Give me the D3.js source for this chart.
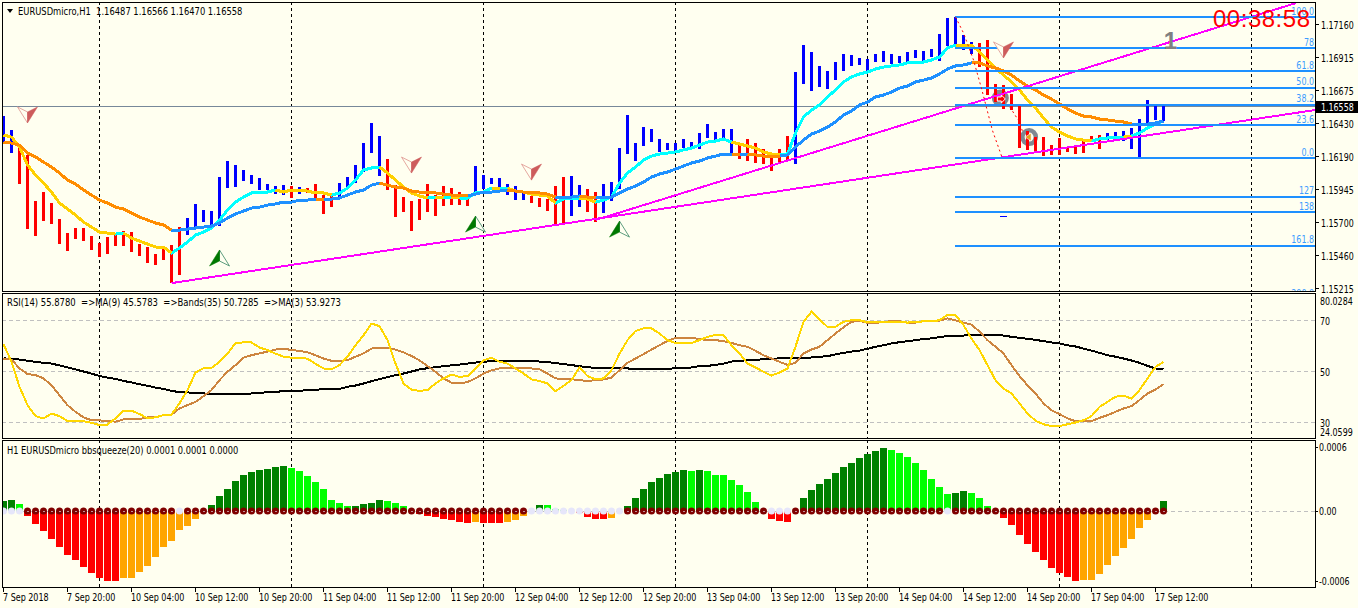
<!DOCTYPE html>
<html><head><meta charset="utf-8">
<script src="https://cdn.jsdelivr.net/npm/d3@7/dist/d3.min.js"></script>
<style>
html,body{margin:0;padding:0;background:#fffff0;overflow:hidden}
svg{display:block}
text{font-family:"DejaVu Sans Condensed","DejaVu Sans",sans-serif;font-size:10px;fill:#000}
</style></head><body>
<svg id="c" width="1358" height="608"></svg>
<script>
// Prices are in points (1e-5), so 116558 reads 1.16558
const barHigh=[116482,116379,116276,116195,115856,115922,115841,115723,115620,115657,115657,115598,115546,115590,115620,115635,115627,115539,115517,115465,115509,115531,115664,115730,115834,115789,115782,116032,116150,116121,116084,116047,116025,115981,115966,115973,115966,115959,115951,115981,115900,115900,115988,116032,116121,116283,116431,116335,116165,115973,115885,115856,115870,115981,115900,115966,115951,115922,115907,116114,116047,116025,116025,115981,115966,115929,115893,115878,115870,115966,116032,116040,115973,115944,115922,115981,115996,116246,116490,116283,116401,116386,116313,116283,116283,116313,116290,116357,116423,116364,116386,116386,116283,116313,116283,116239,116195,116239,116335,116806,117005,116954,116851,116814,116880,116939,116932,116910,116902,116939,116961,116939,116924,116954,116969,116961,116976,117086,117204,117212,117079,117027,117020,117042,116718,116711,116644,116556,116372,116327,116327,116268,116320,116246,116268,116298,116335,116342,116357,116364,116372,116394,116460,116600,116556,116556];
const barLow=[116290,116209,115981,115649,115598,115708,115686,115539,115487,115576,115561,115495,115443,115465,115524,115524,115480,115450,115399,115384,115421,115251,115310,115605,115664,115701,115671,115671,115951,115959,116003,115981,115937,115937,115907,115900,115878,115907,115915,115863,115760,115811,115878,115959,115988,116069,116209,116040,115937,115738,115775,115635,115716,115775,115745,115819,115826,115826,115819,115922,115944,115981,115959,115900,115863,115863,115841,115811,115782,115686,115686,115745,115811,115775,115701,115767,115856,115944,116202,116150,116261,116290,116217,116232,116224,116246,116246,116239,116320,116305,116320,116202,116165,116150,116136,116128,116077,116136,116158,116128,116718,116666,116696,116681,116747,116814,116851,116858,116814,116880,116880,116865,116873,116880,116910,116880,116917,116887,116998,116998,116969,116939,116843,116637,116585,116534,116526,116246,116232,116224,116187,116195,116195,116217,116202,116209,116290,116239,116305,116320,116298,116239,116180,116423,116453,116445];
const upRanges=[[0,1],[23,35],[37,37],[42,47],[59,65],[71,72],[75,91],[99,121],[138,145]];
const fastMA=[116342,116327,116254,116121,116047,115988,115922,115841,115797,115752,115701,115664,115627,115620,115612,115620,115583,115561,115539,115517,115517,115472,115509,115553,115605,115627,115657,115716,115789,115848,115885,115915,115922,115922,115937,115922,115937,115937,115929,115915,115915,115900,115915,
115951,116010,116084,116099,116106,116062,116010,115959,115915,115893,115878,115885,115878,115885,115878,115878,115915,115922,115951,115951,115951,115929,115922,115907,115900,115893,115841,115870,115878,115878,115870,115848,115863,115885,115988,116062,116106,116158,116187,116202,116209,116217,
116232,116246,116268,116290,116298,116313,116290,116276,116261,116246,116217,116202,116202,116202,116357,116475,116526,116563,116622,116674,116733,116770,116792,116806,116828,116843,116851,116858,116873,116880,116880,116895,116917,116983,117005,117005,117005,
116954,116895,116836,116784,116733,116674,116600,116541,116467,116401,116364,116335,116313,116305,116298,116313,116320,116327,116327,116335,116357,116394,116423,116445];
const slowMA=[116290,116283,116268,116209,116180,116143,116106,116062,116010,115981,115937,115900,115863,115841,115811,115797,115767,115738,115716,115694,115679,115642,115642,115649,115657,115664,115671,115694,115730,115760,115782,115804,115811,115826,115834,115848,115848,115863,115863,115870,115870,115870,115878,
115900,115922,115937,115973,115988,115973,115959,115951,115929,115922,115915,115915,115907,115900,115893,115893,115907,115922,115922,115929,115937,115929,115922,115915,115915,115907,115885,115885,115885,115893,115885,115878,115885,115885,115915,115944,115966,115996,116032,116055,116069,116091,
116114,116136,116150,116173,116187,116202,116202,116202,116202,116195,116187,116187,116187,116195,116254,116305,116349,116372,116401,116438,116490,116519,116563,116585,116622,116637,116659,116688,116703,116733,116747,116762,116792,116828,116851,116858,116873,
116873,116851,116836,116814,116784,116740,116703,116674,116637,116607,116571,116534,116504,116482,116475,116460,116453,116445,116438,116423,116423,116423,116431,116445];
const fastDown=[[0,14],[15,21],[34,41],[47,53],[54,55],[56,57],[61,62],[63,69],[72,74],[91,97],[119,136],[140,141]];
const slowDown=[[0,21],[39,40],[47,58],[63,69],[72,74],[91,92],[93,97],[121,141]];
const trendA=[[21,115251],[163.9,116526]];
const trendB=[[74,115716],[161.6,117315]];
const fibHigh=117212, fibLow=116173;
const fibFractions=[1,.78,.618,.5,.382,.236,0,-.27,-.38,-.618,-1];
const fibLabels=["100.0","78","61.8","50.0","38.2","23.6","0.0","127","138","161.8","200.0"];
const zigzagA=[[119,117212],[120,117094],[121.25,116895],[122.3,116674],[123.6,116379],[124.8,116180]];
const zigzagB=[[125.8,116548],[127,116438],[127.4,116364]];
const sellSignals=[[3,116431],[51,116062],[66,116010],[125,116910]];
const buySignals=[[27,115495],[59,115745],[77,115708]];
const priceTicks=[117160,116915,116675,116430,116190,115945,115700,115460,115215];
const lastPrice=116558;
const gridBars=[12,36,60,84,108,132,156];
const rsiGold=[60.7,53.8,44,36.8,32.5,31.6,33.5,32.5,30.6,30.5,30.5,29.9,29,29.2,31.6,34.6,34.7,33.3,31.7,32,32.9,33.1,37.5,42.7,49.6,51.3,51.4,53.8,57,61.2,61.4,61.4,59.4,58.4,57,55.8,55.4,55.4,55,53,51.2,50.9,52.5,55.8,60.3,64.2,68.8,67.8,62.3,53.1,45.3,42.9,42.4,42.7,45.3,47.3,48.8,47.9,48.2,51.2,54.4,55.4,53.8,53.1,51.2,49.2,46.9,46.3,45.3,42.3,44.4,46.6,51.6,48.2,46.9,47.3,50.5,57,62.3,65.9,66.9,66.9,64.9,62.3,61.2,
61.2,61.2,62.3,63.6,64.4,64.2,60.3,57.1,53.1,51.6,49.9,48.4,49.6,51.2,59.7,69.5,73.4,70.4,67.5,67.5,69.5,70.1,70.1,69.3,69.5,69.6,69.6,69.3,69.2,69.3,69.7,69.7,70.1,72.2,72.2,68.2,62.9,58.4,52.5,46.6,43.3,41.4,37.5,33.5,30.7,29.3,28.6,28.6,29.3,30,30.9,32.5,36.1,38.1,40.1,40.5,39.4,42.7,47.3,51.8,53.8];
const rsiTan=[55.1,54.7,51.2,49,48.6,47.3,44.6,40.7,36.8,34.2,32,30.9,30.8,30.7,30.3,31.2,31.4,31.4,32,32.1,32.9,33.1,35.5,36.8,38.1,40.3,42.7,46.6,49.9,52.5,55.4,56.4,57.1,57.8,58.6,59,58.4,58.1,57.5,56.4,55.1,54.2,54.2,54.4,55.8,57.1,59,59.3,59.3,58.6,57.5,56.1,54.4,52.1,49.9,47.3,45.6,45.3,45.9,47.3,49.2,50.5,51.2,51.4,51.4,51.3,51.2,50.9,49.2,47.3,47,47,46.6,46.3,46.6,46.9,47.6,50.5,53.4,55.1,56.8,58.6,60.3,62,63.2,
63.3,63.3,62.7,62.3,62.3,61.9,61.2,60.3,59.7,58.1,56.4,55.1,53.8,52.6,53.4,57.1,58.6,59.7,62.3,64.9,67.3,69.5,69.9,69.1,69,69.5,69.7,69.7,69.2,69.2,69.7,69.7,69.9,70.8,70.1,69.1,68.4,65.6,62.3,59.7,57.1,52.5,48.2,44.6,41.4,37.5,34.8,33.3,31.6,30.5,30.4,30.5,31.8,32.9,34.2,35.5,36.4,38.8,41.4,42.9,45];
const rsiBlack=[55.2,54.8,54.7,54.2,53.8,53.4,53.1,52.4,51.6,50.8,50,49.2,48.2,47.6,47.1,46.3,45.7,45,44.4,43.7,43.2,42.4,41.9,41.8,41.5,41.4,41.2,41.1,41.1,41.1,41.1,41.4,41.6,41.9,42,42.3,42.4,42.4,42.7,42.8,43.1,43.2,43.2,44,44.5,45.3,46.2,47,47.8,48.6,49.2,50,50.8,51.3,51.7,52.1,52.4,52.7,53.1,53.5,53.8,54.1,54.2,54.2,54.2,54.2,54.2,53.9,53.7,53.3,52.9,52.5,52.1,51.7,51.4,51.3,51.2,51.2,51.2,51,51,51,51,51,51.3,
51.3,51.6,52.1,52.2,52.6,53.1,53.9,54.2,54.4,54.6,54.8,54.9,55.2,55.2,55.2,55.2,55.5,55.8,56,56.7,57.3,57.8,58.2,58.9,59.7,60.3,61,61.5,61.9,62.3,62.7,63,63.5,63.9,64,64.1,64.4,64.4,64.4,64.4,64.1,63.6,63.2,62.8,62.4,61.9,61.4,61,60.3,59.8,59,58.2,57.3,56.4,55.8,55.1,54.3,53.4,52.2,51.2,50.9];
const rsiLevels=[70,50,30];
// Squeeze histogram, also in points
const squeeze=[8.6,9.4,6,-4.3,-11.1,-17.1,-24,-30.9,-37.7,-42,-48,-53.1,-57.4,-60,-60,-57.4,-57.3,-52.3,-47.1,-39.4,-30.9,-25.7,-16.3,-12.9,-6.9,-1,5.1,12.9,18.9,25.7,30.9,33.4,35.1,36,37.7,38.6,36.9,34.3,30,24.9,18.9,9.4,6.9,
4.3,4.4,6,6.9,9.4,8.6,6.9,4.3,1,-2.6,-4.3,-5.1,-6.9,-7.7,-9.4,-10.3,-9.4,-10.3,-10.3,-10.3,-9.4,-7.7,-4.3,0,5.1,5,1.7,1,0,-2,-5.1,-6.9,-6.9,-6,-1.1,4.3,11.1,18.9,24.9,28.3,31.7,33.4,
35.1,34.3,35.1,34.3,30.9,30.8,26.6,22.3,16.3,7.7,0,-6.9,-8.6,-9.4,0,11.1,18,23.1,27.4,32.6,37.7,41.1,45.4,48.9,51.4,54,52.3,49.7,46.3,41.1,35.1,27.4,20.6,14.6,15.4,17.1,15.4,11.1,4.3,1,-6,-12,-20.6,
-28.3,-35.1,-42,-48.9,-53.1,-56.6,-60,-59.1,-59,-54,-46.3,-38.6,-31.7,-24,-14.6,-7.7,0,8.6];
const squeezeOff=[0,1,2,22,66,67,68,69,70,71,72,73,74,75,76,77,96,97,98,118];
const timeLabels=["7 Sep 2018","7 Sep 20:00","10 Sep 04:00","10 Sep 12:00","10 Sep 20:00","11 Sep 04:00","11 Sep 12:00","11 Sep 20:00","12 Sep 04:00","12 Sep 12:00","12 Sep 20:00","13 Sep 04:00","13 Sep 12:00","13 Sep 20:00","14 Sep 04:00","14 Sep 12:00","14 Sep 20:00","17 Sep 04:00","17 Sep 12:00"];
const titleMain="EURUSDmicro,H1  1.16487 1.16566 1.16470 1.16558";
const titleRsi="RSI(14) 55.8780  =>MA(9) 45.5783  =>Bands(35) 50.7285  =>MA(3) 53.9273";
const titleSq="H1 EURUSDmicro bbsqueeze(20) 0.0001 0.0001 0.0000";
const clockText="00:38:58";

const svg=d3.select("#c");
const X0=2,X1=1315;
const x=d3.scaleLinear().domain([0,145]).range([3.5,1163.5]);
const yP=d3.scaleLinear().domain([115215,117160]).range([288,24]);
const yR=d3.scaleLinear().domain([30,70]).range([422.5,320.5]);
const yS=d3.scaleLinear().domain([-60,60]).range([581,441]);
const inRanges=(i,r)=>r.some(([a,b])=>i>=a&&i<=b);
// squeeze the condensed face to the narrow width of the chart's own font
function fit(sel,ratio){
  sel.style("white-space","pre").attr("xml:space","preserve").each(function(){
    this.setAttribute("textLength",this.getComputedTextLength()*ratio);
    this.setAttribute("lengthAdjust","spacingAndGlyphs");
  });
  return sel;
}

const defs=svg.append("defs");
[["p1",2,291],["p2",293,438],["p3",440,587]].forEach(([id,t,b])=>{
  defs.append("clipPath").attr("id",id).append("rect").attr("x",X0+1).attr("y",t).attr("width",X1-X0-1).attr("height",b-t);
});
const p1=svg.append("g").attr("clip-path","url(#p1)");
const p2=svg.append("g").attr("clip-path","url(#p2)");
const p3=svg.append("g").attr("clip-path","url(#p3)");

// vertical grid
[[p1,2,291],[p2,293,438],[p3,440,587]].forEach(([g,t,b])=>{
  g.selectAll("line.v").data(gridBars).join("line").attr("class","v")
   .attr("x1",d=>Math.floor(x(d))).attr("x2",d=>Math.floor(x(d))).attr("y1",t).attr("y2",b)
   .attr("stroke","#000").attr("stroke-dasharray","3,3").attr("shape-rendering","crispEdges");
});
// current price line
p1.append("line").attr("x1",X0).attr("x2",X1).attr("y1",Math.round(yP(lastPrice))+.5).attr("y2",Math.round(yP(lastPrice))+.5)
  .attr("stroke","#778899").attr("shape-rendering","crispEdges");

// grey pattern markers behind the bars
const markA=[124.6,116615], markB=[128.2,116327];
p1.append("circle").attr("cx",x(markA[0])).attr("cy",yP(markA[1])).attr("r",8.5).attr("fill","#808890");
p1.append("circle").attr("cx",x(markB[0])).attr("cy",yP(markB[1])).attr("r",9).attr("fill","#808890");
p1.append("circle").attr("cx",x(markB[0])).attr("cy",yP(markB[1])).attr("r",4.5).attr("fill","#fffff0");

// bars
p1.selectAll("rect.bar").data(barHigh).join("rect").attr("class","bar")
  .attr("x",(d,i)=>x(i)-1.5).attr("width",3)
  .attr("y",d=>yP(d)).attr("height",(d,i)=>yP(barLow[i])-yP(d))
  .attr("fill",(d,i)=>inRanges(i,upRanges)?"#0000ff":"#ff0000").attr("shape-rendering","crispEdges");

// moving averages
const lineP=d3.line().x(d=>x(d[0])).y(d=>yP(d[1]));
function seg(g,vals,a,b,col,w){
  const pts=d3.range(a,b+1).map(i=>[i,vals[i]]);
  g.append("path").attr("d",lineP(pts)).attr("fill","none").attr("stroke",col).attr("stroke-width",w).attr("stroke-linejoin","round").attr("shape-rendering","crispEdges");
}
seg(p1,fastMA,0,145,"#00ffff",3);
fastDown.forEach(([a,b])=>seg(p1,fastMA,a,b,"#ffd000",3));
seg(p1,slowMA,0,145,"#1e90ff",3);
slowDown.forEach(([a,b])=>seg(p1,slowMA,a,b,"#ff8c00",3));

// trend lines
[trendA,trendB].forEach(t=>p1.append("path").attr("d",lineP(t)).attr("fill","none").attr("stroke","#ff00ff").attr("stroke-width",2).attr("shape-rendering","crispEdges"));

// fibonacci retracement
const fibY=f=>yP(fibLow+f*(fibHigh-fibLow))+.5;
const fibX0=955;
p1.selectAll("line.fib").data(fibFractions).join("line").attr("class","fib")
  .attr("x1",fibX0).attr("x2",X1).attr("y1",d=>fibY(d)).attr("y2",d=>fibY(d))
  .attr("stroke","#1e90ff").attr("stroke-width",2).attr("shape-rendering","crispEdges");
fit(p1.selectAll("text.fib").data(fibFractions).join("text").attr("class","fib")
  .attr("x",1314).attr("y",d=>fibY(d)-2.5).attr("text-anchor","end").style("fill","#3d9cff")
  .text((d,i)=>fibLabels[i]),.88);

// zigzag
[zigzagA,zigzagB].forEach(z=>p1.append("path").attr("d",lineP(z)).attr("fill","none").attr("stroke","#ff0000").attr("stroke-dasharray","2,3").attr("stroke-width",1));

// small tick mark
p1.append("line").attr("x1",x(124.6)).attr("x2",x(125.4)).attr("y1",yP(115745)).attr("y2",yP(115745)).attr("stroke","#0000ff").attr("shape-rendering","crispEdges");

// marker arrows
p1.append("path").attr("transform",`translate(${x(markA[0])+1},${yP(markA[1])+1})`).attr("d","M-4,-2H0V-4L4,0L0,4V2H-4Z").attr("fill","#ff0000").attr("stroke","#fff");
p1.append("path").attr("transform",`translate(${x(markB[0])-1},${yP(markB[1])})`).attr("d","M3,-4V4L-3,0Z").attr("fill","#e6a020").attr("stroke","#fff").attr("stroke-width",.6);

// signal arrows
sellSignals.forEach(([i,p])=>{
  const g=p1.append("g").attr("transform",`translate(${x(i)},${yP(p)})`);
  g.append("path").attr("d","M0,0L-10,-16L0,-11Z").attr("fill","#fffff0").attr("stroke","#e5a8a0");
  g.append("path").attr("d","M0,0L10,-16L0,-11Z").attr("fill","#cd5c5c").attr("stroke","#cd5c5c").attr("stroke-width",.5);
});
buySignals.forEach(([i,p])=>{
  const g=p1.append("g").attr("transform",`translate(${x(i)},${yP(p)})`);
  g.append("path").attr("d","M0,0L10,16L0,11Z").attr("fill","#fffff0").attr("stroke","#5f9e7f");
  g.append("path").attr("d","M0,0L-10,16L0,11Z").attr("fill","#007800").attr("stroke","#007800").attr("stroke-width",.5);
});

// labels on the chart
p1.append("text").attr("x",1170.5).attr("y",49).attr("text-anchor","middle").style("font-family","Liberation Sans").style("font-weight","bold").style("font-size","24px").style("fill","#808080").text("1");
p1.append("text").attr("x",1213).attr("y",27).style("font-family","Liberation Sans").style("font-size","24px").style("fill","#ff0000").attr("textLength",97).text(clockText);
svg.append("path").attr("d","M7,9H13L10,13Z").attr("fill","#000");
fit(svg.append("text").attr("x",18).attr("y",15).text(titleMain),.93);
fit(svg.append("text").attr("x",7).attr("y",306).text(titleRsi),.94);
fit(svg.append("text").attr("x",7).attr("y",454).text(titleSq),.92);

// RSI pane
p2.selectAll("line.l").data(rsiLevels).join("line").attr("class","l")
  .attr("x1",X0).attr("x2",X1).attr("y1",d=>Math.floor(yR(d))+.5).attr("y2",d=>Math.floor(yR(d))+.5)
  .attr("stroke","#c0c0c0").attr("stroke-dasharray","4,3").attr("shape-rendering","crispEdges");
const lineR=d3.line().x((d,i)=>x(i)).y(d=>yR(d));
[[rsiBlack,"#000000",2],[rsiTan,"#cd853f",2],[rsiGold,"#ffd700",2]].forEach(([v,c,w])=>{
  p2.append("path").attr("d",lineR(v)).attr("fill","none").attr("stroke",c).attr("stroke-width",w).attr("shape-rendering","crispEdges");
});

// squeeze pane
p3.append("line").attr("x1",X0).attr("x2",X1).attr("y1",Math.floor(yS(0))+.5).attr("y2",Math.floor(yS(0))+.5)
  .attr("stroke","#c0c0c0").attr("stroke-dasharray","4,3").attr("shape-rendering","crispEdges");
const sqColor=(v,i)=>{
  const prev=i?squeeze[i-1]:0;
  if(v>=0) return v>=prev?"#008000":"#00ff00";
  return v>prev?"#ffa500":"#ff0000";
};
p3.selectAll("rect.h").data(squeeze).join("rect").attr("class","h")
  .attr("x",(d,i)=>x(i)-3.5).attr("width",7)
  .attr("y",d=>Math.min(yS(d),yS(0))).attr("height",d=>Math.abs(yS(d)-yS(0)))
  .attr("fill",sqColor).attr("shape-rendering","crispEdges");
p3.selectAll("circle.d").data(squeeze).join("circle").attr("class","d")
  .attr("cx",(d,i)=>x(i)).attr("cy",yS(0)).attr("r",3.5)
  .attr("fill",(d,i)=>squeezeOff.includes(i)?"#e6e6fa":"#800000");
p3.selectAll("rect.c").data(squeeze.map((d,i)=>i).filter(i=>!squeezeOff.includes(i))).join("rect").attr("class","c")
  .attr("x",i=>x(i)-1).attr("width",2).attr("y",yS(0)).attr("height",1).attr("fill","#c09098").attr("shape-rendering","crispEdges");

// frames
const frame=(t,b)=>svg.append("rect").attr("x",X0+.5).attr("y",t+.5).attr("width",X1-X0).attr("height",b-t).attr("fill","none").attr("stroke","#000").attr("shape-rendering","crispEdges");
frame(2,291);frame(293,438);frame(440,587);

// axes
const tick=(yy,x0,x1)=>svg.append("line").attr("x1",x0).attr("x2",x1).attr("y1",yy).attr("y2",yy).attr("stroke","#000").attr("shape-rendering","crispEdges");
priceTicks.forEach(p=>{
  const yy=Math.round(yP(p))+.5;
  tick(yy,X1,X1+4);
  fit(svg.append("text").attr("x",1321).attr("y",yy+4).text((p/1e5).toFixed(5)),.88);
});
svg.append("rect").attr("x",1316).attr("y",Math.round(yP(lastPrice))-5).attr("width",42).attr("height",12).attr("fill","#000");
fit(svg.append("text").attr("x",1321).attr("y",Math.round(yP(lastPrice))+5).style("fill","#fff").text((lastPrice/1e5).toFixed(5)),.88);

[[yR(80.0284)+6,"80.0284"],[yR(70),"70"],[yR(50),"50"],[yR(30),"30"],[yR(24.0599)-6,"24.0599"]].forEach(([yy,t])=>{
  fit(svg.append("text").attr("x",1320).attr("y",yy+4).text(t),.88);
});
[[yS(60)+6,"0.0006"],[yS(0),"0.00"],[yS(-60),"-0.0006"]].forEach(([yy,t])=>{
  tick(Math.floor(yy)+.5,X1,X1+3);
  fit(svg.append("text").attr("x",1319).attr("y",yy+4).text(t),.88);
});
timeLabels.forEach((t,k)=>{
  const tx=Math.floor(x(k*8));
  svg.append("line").attr("x1",tx).attr("x2",tx).attr("y1",587).attr("y2",592).attr("stroke","#000").attr("shape-rendering","crispEdges");
  fit(svg.append("text").attr("x",tx).attr("y",601).text(t),.89);
});
</script>
</body></html>
